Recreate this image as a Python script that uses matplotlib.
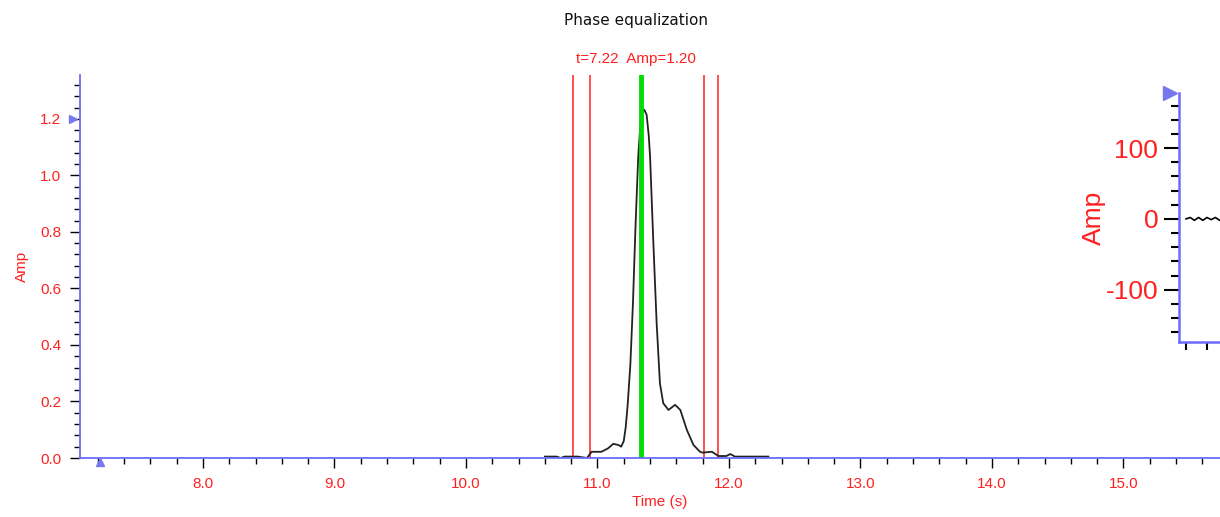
import numpy as np
import matplotlib.pyplot as plt
from matplotlib.ticker import MultipleLocator

# main trace (time s, amplitude)
t = [10.60, 10.69, 10.72, 10.75, 10.85, 10.92, 10.955, 11.03, 11.08, 11.12,
     11.16, 11.18, 11.20, 11.215, 11.23, 11.25, 11.27, 11.29, 11.31, 11.325,
     11.34, 11.356, 11.374, 11.39, 11.40, 11.424, 11.45, 11.475, 11.50, 11.54,
     11.59, 11.63, 11.68, 11.73, 11.78, 11.80, 11.87, 11.92, 11.98, 12.01,
     12.045, 12.30]
amp = [0.005, 0.005, 0.0, 0.005, 0.005, 0.0, 0.022, 0.022, 0.034, 0.05,
       0.046, 0.04, 0.06, 0.11, 0.19, 0.33, 0.55, 0.83, 1.067, 1.17,
       1.225, 1.232, 1.214, 1.14, 1.067, 0.772, 0.477, 0.264, 0.194, 0.17,
       0.188, 0.17, 0.099, 0.046, 0.022, 0.019, 0.022, 0.007, 0.007, 0.014,
       0.005, 0.005]

red_lines = [10.816, 10.943, 11.813, 11.915]
green_line = 11.33
cursor_t = 7.22
cursor_amp = 1.20

xticks = [8.0, 9.0, 10.0, 11.0, 12.0, 13.0, 14.0, 15.0]
yticks = [0.0, 0.2, 0.4, 0.6, 0.8, 1.0, 1.2]

# second panel (cut off at right)
t2 = [0.0, 0.2, 0.4, 0.6, 0.8, 1.0, 1.2, 1.4, 1.6, 1.8, 2.0]
amp2 = [0, 2, -2, 2, -2, 2, -1, 2, -2, 1, -1]

spine_c = '#6b6bff'
tri_c = '#7878ee'
red = '#ff2020'
plt.rcParams['font.family'] = ['Liberation Sans', 'DejaVu Sans']
plt.rcParams['axes.unicode_minus'] = False

fig = plt.figure(figsize=(12.2, 5.17), dpi=100)
ax = fig.add_axes([80/1220, 1-458/517, 1160/1220, 383/517])

ax.plot(t, amp, color='#222222', lw=1.3, zorder=3, solid_joinstyle='round')
for x in red_lines:
    ax.axvline(x, color=red, lw=1.1, zorder=2)
ax.axvline(green_line, color='#00dd00', lw=3.5, zorder=4)

ax.set_xlim(7.065, 15.886)
ax.set_ylim(0, 1.355)
ax.set_xticks(xticks)
ax.set_xticklabels(['%.1f' % v for v in xticks])
ax.set_yticks(yticks)
ax.set_yticklabels(['%.1f' % v for v in yticks])
ax.xaxis.set_minor_locator(MultipleLocator(0.2))
ax.yaxis.set_minor_locator(MultipleLocator(0.04))
ax.tick_params(which='major', length=7.5, width=1, color='black', labelcolor=red, labelsize=11, pad=6)
ax.tick_params(which='minor', length=4.5, width=1, color='black')
for s in ['top', 'right']:
    ax.spines[s].set_visible(False)
for s in ['left', 'bottom']:
    ax.spines[s].set_color(spine_c)
    ax.spines[s].set_linewidth(1.3)
    ax.spines[s].set_zorder(5)

ax.set_xlabel('Time (s)', color=red, fontsize=11, labelpad=3)
ax.set_ylabel('Amp', color=red, fontsize=11, labelpad=8)

# cursor markers
ax.plot([-0.006], [cursor_amp], marker='>', color=tri_c, ms=6,
        transform=ax.get_yaxis_transform(), clip_on=False, zorder=6)
ax.plot([cursor_t], [-0.011], marker='^', color=tri_c, ms=6,
        transform=ax.get_xaxis_transform(), clip_on=False, zorder=6)

fig.text(636/1220, 1-20/517, 'Phase equalization', ha='center', va='center',
         fontsize=11, family='DejaVu Sans', color='#111111')
fig.text(636/1220, 1-59/517, 't=%.2f  Amp=%.2f' % (cursor_t, cursor_amp),
         ha='center', va='center', fontsize=11, color=red)

# right panel, mostly outside the picture
ax2 = fig.add_axes([1179/1220, 1-342/517, 300/1220, 249/517])
ax2.plot(t2, amp2, color='black', lw=1.2)
ax2.set_xlim(-0.333, 13.95)
ax2.set_ylim(-174, 178)
ax2.set_yticks([-100, 0, 100])
ax2.yaxis.set_minor_locator(MultipleLocator(20))
ax2.xaxis.set_major_locator(MultipleLocator(1))
ax2.tick_params(axis='x', which='major', length=6, width=1.5, labelbottom=False)
ax2.tick_params(axis='y', which='major', length=11, width=1.5, color='black',
                labelcolor=red, labelsize=19, pad=4)
ax2.tick_params(axis='y', which='minor', length=6, width=1.5, color='black')
for s in ['top', 'right']:
    ax2.spines[s].set_visible(False)
for s in ['left', 'bottom']:
    ax2.spines[s].set_color(spine_c)
    ax2.spines[s].set_linewidth(1.8)
ax2.set_ylabel('Amp', color=red, fontsize=19, labelpad=0)
ax2.plot([-0.03], [1.0], marker='>', color=tri_c, ms=10,
         transform=ax2.transAxes, clip_on=False, zorder=6)

fig.savefig('out.png', dpi=100)
